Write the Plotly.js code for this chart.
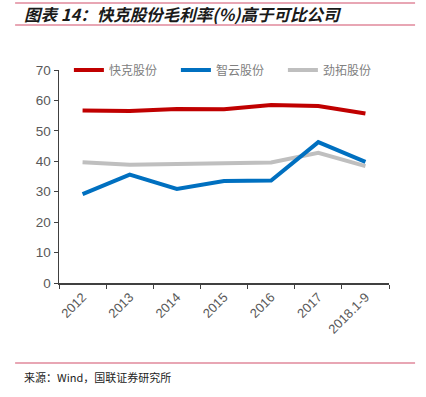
<!DOCTYPE html>
<html><head><meta charset="utf-8">
<script src="https://cdn.plot.ly/plotly-3.0.1.min.js"></script>
<style>html,body{margin:0;padding:0;background:#fff;}</style>
</head><body><div id="chart" style="width:426px;height:397px;"></div>
<script>
const categories = ['2012','2013','2014','2015','2016','2017','2018.1-9'];
const kuaike = [56.7, 56.5, 57.2, 57.1, 58.5, 58.2, 55.7];
const zhiyun = [29.2, 35.6, 30.9, 33.5, 33.7, 46.3, 39.8];
const jintuo = [39.7, 38.9, 39.1, 39.5, 39.6, 42.8, 38.4];
const seriesNames = ['快克股份','智云股份','劲拓股份'];
const colors = ['#C00000','#0070C0','#BFBFBF'];
const yTicks = [0,10,20,30,40,50,60,70];

const cjk = '"Noto Sans CJK SC", sans-serif';
const latin = '"Liberation Sans", Arial, sans-serif';

const traces = [kuaike, zhiyun, jintuo].map((vals, i) => ({
  type: 'scatter', mode: 'lines', x: categories, y: vals, name: seriesNames[i],
  legendrank: i + 1,
  line: {color: colors[i], width: 4}
}));
const ordered = [traces[2], traces[0], traces[1]];

const pink = '#E0899B';
const layout = {
  width: 426, height: 397,
  margin: {l: 59, r: 37, t: 70, b: 114},
  paper_bgcolor: '#fff', plot_bgcolor: '#fff',
  showlegend: true,
  legend: {orientation: 'h', x: 0.03, y: 1.0, xanchor: 'left', yanchor: 'middle',
    font: {family: cjk, size: 12, color: '#808080'}, traceorder: 'normal',
    entrywidth: 62, itemwidth: 30, bgcolor: 'rgba(0,0,0,0)'},
  xaxis: {type: 'category', categoryorder: 'array', categoryarray: categories, range: [-0.5, 6.5],
    showline: true, linecolor: '#404040', linewidth: 1.5, ticks: 'outside', ticklen: 4,
    tickcolor: '#404040', tickson: 'boundaries', tickangle: -45, showgrid: false, zeroline: false,
    automargin: false,
    tickfont: {family: latin, size: 13, color: '#595959'}},
  yaxis: {range: [0, 70], tickvals: yTicks, showline: true, linecolor: '#404040', linewidth: 1.5,
    ticks: 'outside', ticklen: 4, tickcolor: '#404040', showgrid: false, zeroline: false,
    automargin: false,
    tickfont: {family: latin, size: 13.5, color: '#595959'}},
  shapes: [
    {type: 'line', xref: 'paper', yref: 'paper', x0: -0.133, x1: 1.079, y0: 1.3146, y1: 1.3146, line: {color: pink, width: 1.5}},
    {type: 'line', xref: 'paper', yref: 'paper', x0: -0.133, x1: 1.079, y0: 1.2113, y1: 1.2113, line: {color: pink, width: 1.5}},
    {type: 'line', xref: 'paper', yref: 'paper', x0: -0.133, x1: 1.079, y0: -0.3756, y1: -0.3756, line: {color: pink, width: 1.5}}
  ],
  annotations: [
    {xref: 'paper', yref: 'paper', x: -0.112, y: 1.265, xanchor: 'left', yanchor: 'middle', showarrow: false,
     text: '<b><i>图表 14：快克股份毛利率(%)高于可比公司</i></b>', font: {family: cjk, size: 16.5, color: '#1a1a1a'}},
    {xref: 'paper', yref: 'paper', x: -0.112, y: -0.441, xanchor: 'left', yanchor: 'middle', showarrow: false,
     text: '来源：Wind，国联证券研究所', font: {family: cjk, size: 11, color: '#222'}}
  ]
};
Plotly.newPlot('chart', ordered, layout, {staticPlot: true});
</script></body></html>
